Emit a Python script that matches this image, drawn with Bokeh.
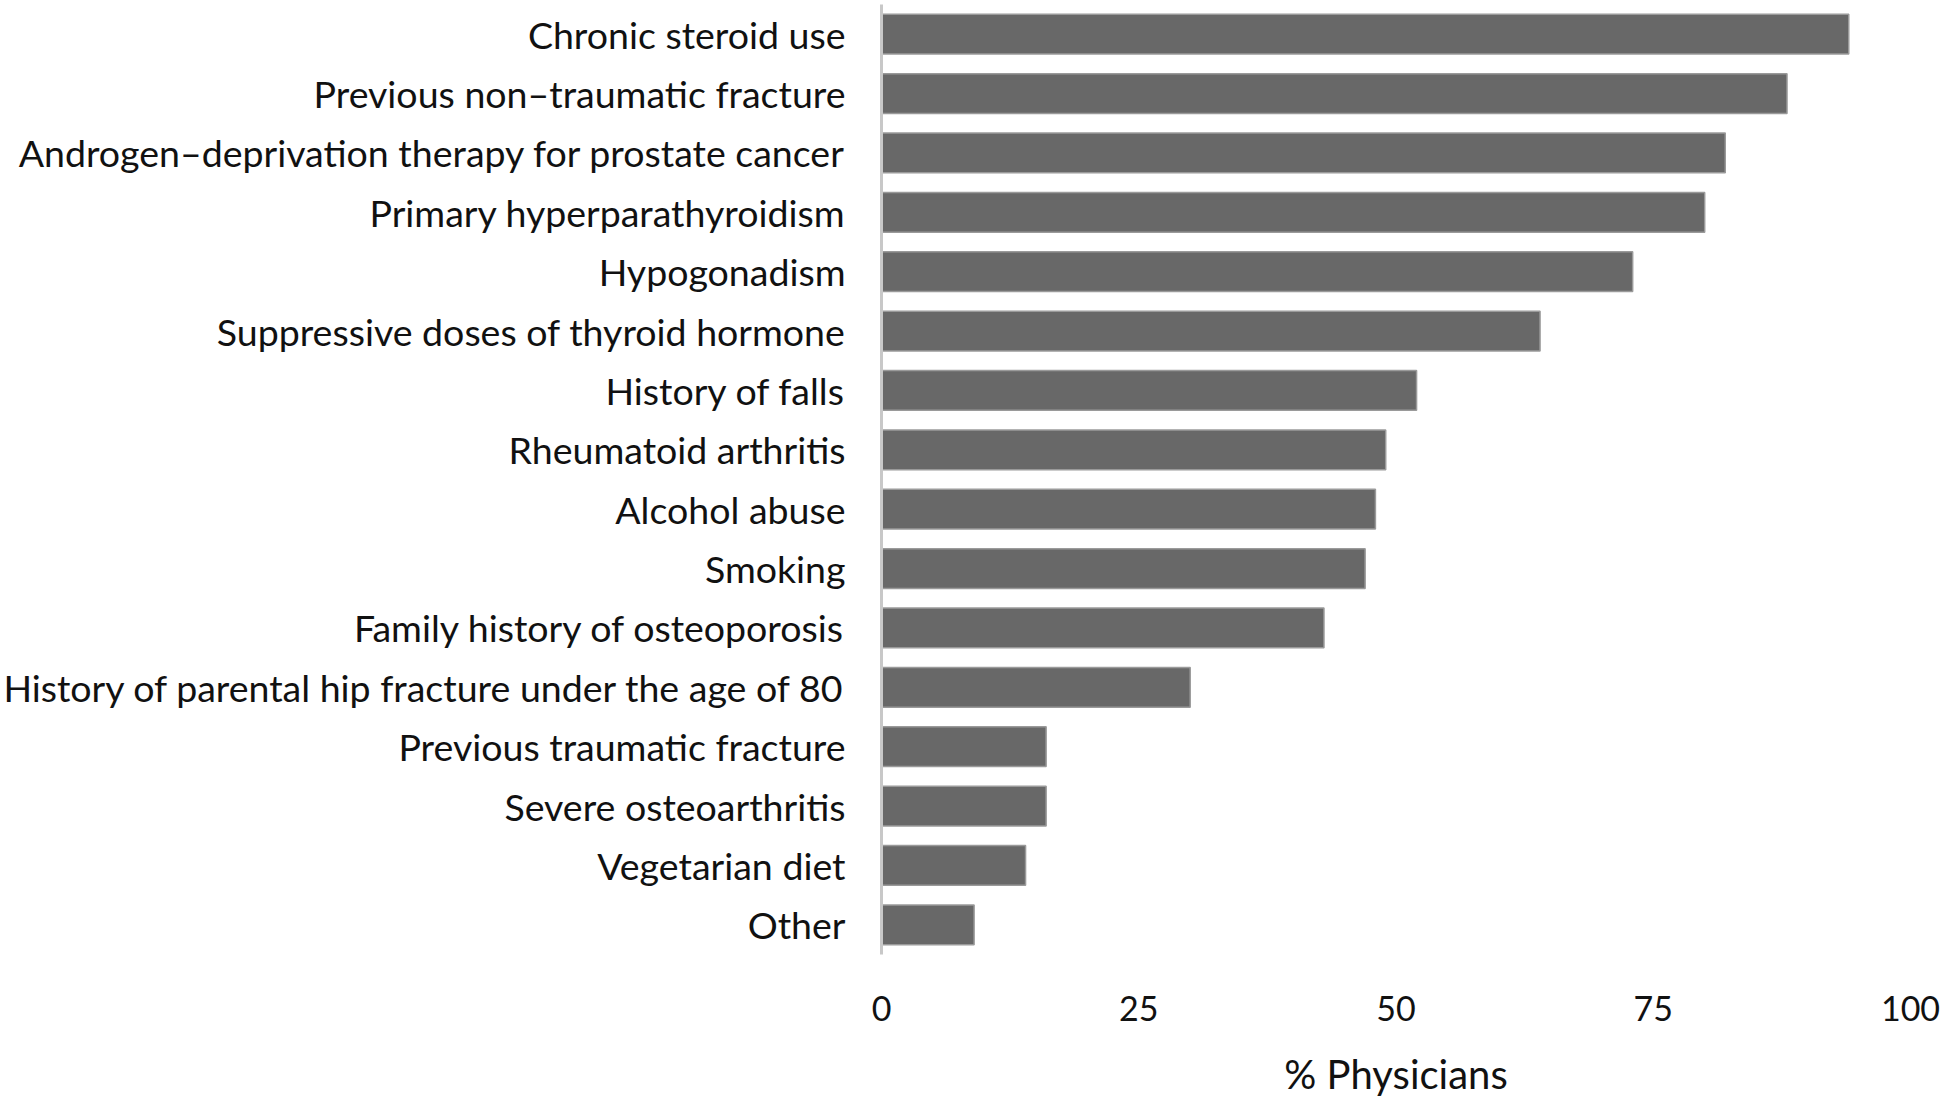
from bokeh.plotting import figure
from bokeh.models import FactorRange, Range1d, ColumnDataSource, FixedTicker
from bokeh.embed import file_html
from bokeh.resources import INLINE

categories = [
    "Chronic steroid use",
    "Previous non\u2013traumatic fracture",
    "Androgen\u2013deprivation therapy for prostate cancer",
    "Primary hyperparathyroidism",
    "Hypogonadism",
    "Suppressive doses of thyroid hormone",
    "History of falls",
    "Rheumatoid arthritis",
    "Alcohol abuse",
    "Smoking",
    "Family history of osteoporosis",
    "History of parental hip fracture under the age of 80",
    "Previous traumatic fracture",
    "Severe osteoarthritis",
    "Vegetarian diet",
    "Other",
]
values = [94, 88, 82, 80, 73, 64, 52, 49, 48, 47, 43, 30, 16, 16, 14, 9]
x_ticks = [0, 25, 50, 75, 100]

FONT = "Lato"

src = ColumnDataSource(dict(cat=categories, val=values))

p = figure(
    width=1946, height=1100,
    y_range=FactorRange(factors=list(reversed(categories)), range_padding=0),
    x_range=Range1d(0, 100),
    output_backend="svg", toolbar_location=None,
    min_border_left=877, min_border_right=36, min_border_top=4, min_border_bottom=142,
)
p.hbar(y="cat", right="val", left=0, height=0.67, source=src,
       fill_color="#686868", line_color="#9a9a9a", line_width=1.5)

p.xgrid.visible = False
p.ygrid.visible = False
p.outline_line_color = None

xa = p.xaxis[0]
xa.ticker = FixedTicker(ticks=x_ticks)
xa.axis_line_color = None
xa.major_tick_line_color = None
xa.minor_tick_line_color = None
xa.major_tick_out = 0
xa.major_label_text_font = FONT
xa.major_label_text_font_size = "34px"
xa.major_label_text_color = "#111111"
xa.major_label_standoff = 41
xa.axis_label = "% Physicians"
xa.axis_label_text_font = FONT
xa.axis_label_text_font_size = "40px"
xa.axis_label_text_font_style = "normal"
xa.axis_label_text_color = "#111111"
xa.axis_label_standoff = 26

ya = p.yaxis[0]
ya.axis_line_color = "#c8c8c8"
ya.axis_line_width = 3
ya.major_tick_line_color = None
ya.minor_tick_line_color = None
ya.major_tick_out = 0
ya.major_label_text_font = FONT
ya.major_label_text_font_size = "37.5px"
ya.major_label_text_color = "#111111"
ya.major_label_standoff = 36

open("out.html", "w").write(file_html(p, INLINE))
